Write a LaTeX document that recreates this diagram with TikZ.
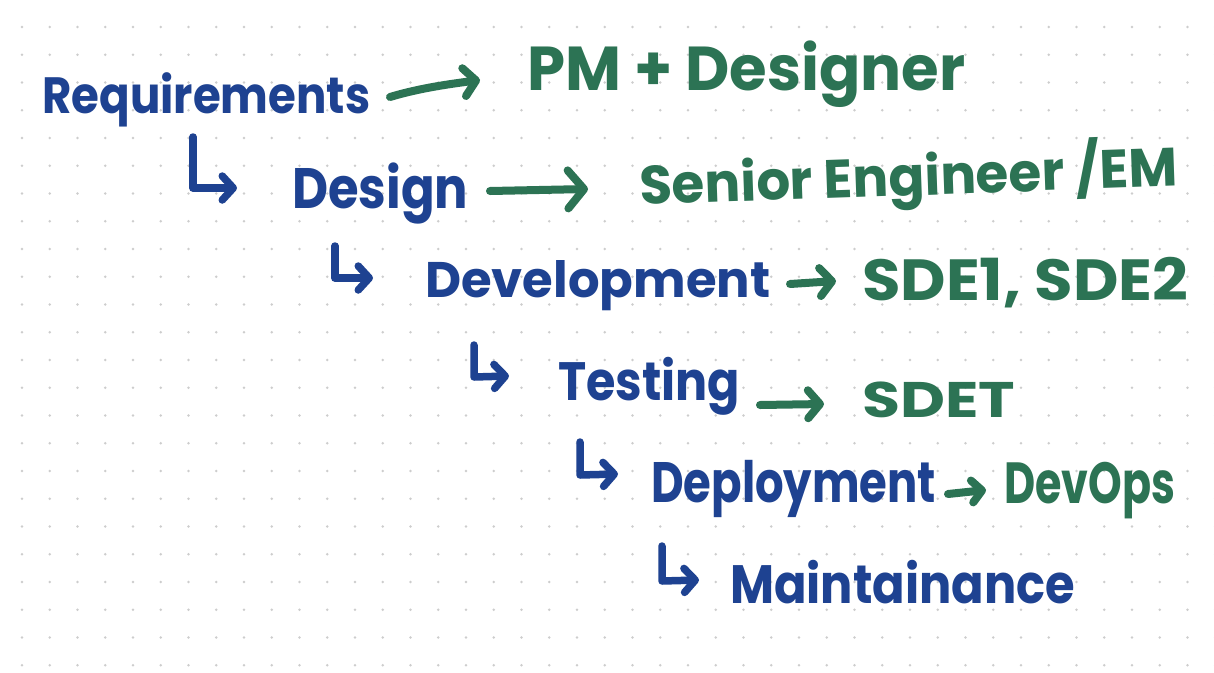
\documentclass[tikz,border=0pt]{standalone}
\usepackage{fontspec}
\setmainfont{Poppins}
\usepackage{graphicx}
\usetikzlibrary{arrows.meta}
\definecolor{inkblue}{RGB}{30,66,145}
\definecolor{inkgreen}{RGB}{44,115,84}
\definecolor{dotgray}{RGB}{205,205,205}
\newcommand\hw[3]{{\fontsize{#1pt}{#1pt}\selectfont\resizebox{#2pt}{\height}{#3}}}
\tikzset{
  stage/.style={text=inkblue, inner sep=0pt, anchor=base west, font=\bfseries},
  role/.style={text=inkgreen, inner sep=0pt, anchor=base west, font=\bfseries},
  roleArrow/.style={draw=inkgreen, line width=8pt, line cap=round, line join=round,
    -{Straight Barb[length=12pt,width=28pt,round]}},
  bigRoleArrow/.style={roleArrow,
    -{Straight Barb[length=16pt,width=38pt,round]}},
  smallRoleArrow/.style={roleArrow,
    -{Straight Barb[length=10pt,width=22pt,round]}},
  hookArrow/.style={draw=inkblue, line width=7.5pt, line cap=round, line join=round,
    -{Straight Barb[length=11pt,width=24pt,round]}},
}
\begin{document}
\begin{tikzpicture}[x=1pt,y=-1pt]
\useasboundingbox (0,0) rectangle (1214,672);
\fill[white] (0,0) rectangle (1214,672);
% dot grid
\foreach \i in {0,...,43}{
  \foreach \j in {0,...,23}{
    \fill[dotgray] (22+27.75*\i, 27+27.75*\j) circle (1.3);
  }
}
% stages
\node[stage] (req) at (42,113) {\hw{51}{328}{Requirements}};
\node[stage] (des) at (292,208) {\hw{57}{176}{Design}};
\node[stage] (dev) at (425,297) {\hw{50}{345}{Development}};
\node[stage] (tst) at (558,400) {\hw{54}{182}{Testing}};
\node[stage] (dep) at (651,502) {\hw{57}{285}{Deployment}};
\node[stage] (mnt) at (730,603) {\hw{54}{345}{Maintainance}};
% roles
\node[role] (pm) at (527,90) {\hw{62}{438}{PM + Designer}};
\node[role, rotate=2] (sen) at (640,205) {\hw{54}{538}{Senior Engineer /EM}};
\node[role] (sde) at (862,300) {\hw{58}{326}{SDE1, SDE2}};
\node[role] (sdet) at (862,417) {\hw{50}{153}{SDET}};
\node[role] (ops) at (1004,503) {\hw{58}{171}{DevOps}};
% arrow end points
\coordinate (a1s) at (390,97);  \coordinate (a1e) at (480,80);
\coordinate (a2s) at (490,191); \coordinate (a2e) at (588,189);
\coordinate (a3s) at (790,284); \coordinate (a3e) at (836,281);
\coordinate (a4s) at (760,405); \coordinate (a4e) at (824,404);
\coordinate (a5s) at (948,494); \coordinate (a5e) at (986,490);
\draw[roleArrow] (a1s) .. controls (420,88) and (450,84) .. (a1e);
\draw[bigRoleArrow] (a2s) -- (a2e);
\draw[roleArrow] (a3s) -- (a3e);
\draw[roleArrow] (a4s) -- (a4e);
\draw[smallRoleArrow] (a5s) -- (a5e);
% hook arrows
\coordinate (h1a) at (193,137); \coordinate (h1b) at (193,188); \coordinate (h1c) at (237,188);
\coordinate (h2a) at (335,246); \coordinate (h2b) at (335,278); \coordinate (h2c) at (373,278);
\coordinate (h3a) at (474,345); \coordinate (h3b) at (474,377); \coordinate (h3c) at (509,376);
\coordinate (h4a) at (580,442); \coordinate (h4b) at (580,475); \coordinate (h4c) at (618,474);
\coordinate (h5a) at (662,546); \coordinate (h5b) at (662,581); \coordinate (h5c) at (699,580);
\draw[hookArrow] (h1a) -- (h1b) -- (h1c);
\draw[hookArrow] (h2a) -- (h2b) -- (h2c);
\draw[hookArrow] (h3a) -- (h3b) -- (h3c);
\draw[hookArrow] (h4a) -- (h4b) -- (h4c);
\draw[hookArrow] (h5a) -- (h5b) -- (h5c);
\end{tikzpicture}
\end{document}
